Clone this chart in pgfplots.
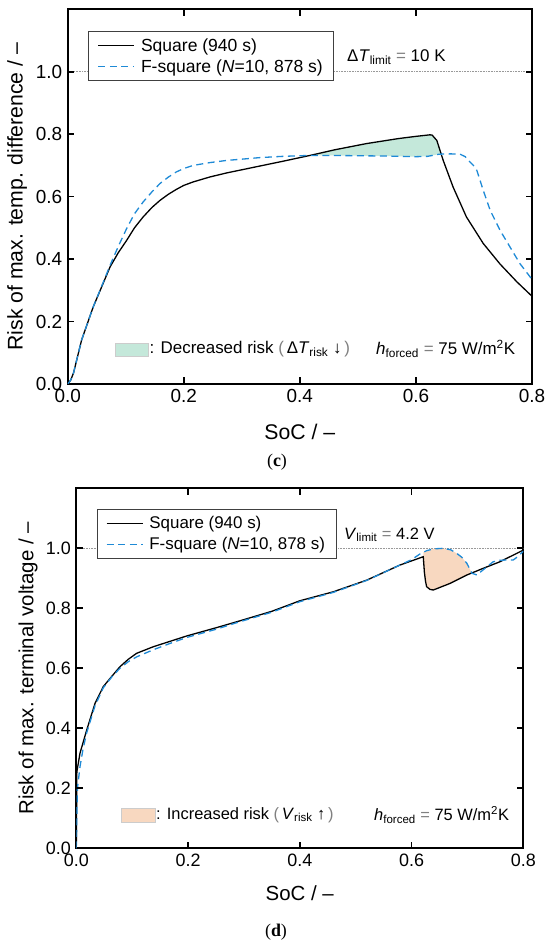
\documentclass[border=0pt]{standalone}
\usepackage{fontspec}
\setmainfont{Liberation Sans}
\newfontfamily\capfont{Liberation Serif}
\usepackage{pgfplots}
\usepackage{pgfplotstable}
\pgfplotsset{compat=1.18}
\definecolor{fsblue}{RGB}{30,138,214}
\definecolor{decgreen}{RGB}{196,232,218}
\definecolor{incorange}{RGB}{248,216,192}

\pgfplotstableread{
x y
0 0
0.005 0.012
0.01 0.035
0.024 0.141
0.044 0.247
0.073 0.375
0.087 0.42
0.1016 0.46
0.115 0.5
0.13 0.535
0.145 0.565
0.159 0.588
0.173 0.607
0.187 0.623
0.2 0.636
0.216 0.647
0.245 0.663
0.274 0.676
0.3 0.686
0.331 0.698
0.37 0.713
0.4 0.725
0.42 0.733
0.46 0.750
0.515 0.770
0.57 0.786
0.6 0.793
0.624 0.798
0.628 0.797
0.636 0.78
0.647 0.716
0.664 0.631
0.687 0.535
0.716 0.45
0.745 0.384
0.774 0.327
0.8 0.281
}\sqtop

\pgfplotstableread{
x y
0 0
0.005 0.012
0.01 0.035
0.024 0.141
0.044 0.247
0.06 0.32
0.073 0.38
0.087 0.44
0.1016 0.498
0.115 0.545
0.13 0.583
0.145 0.615
0.159 0.642
0.173 0.662
0.187 0.679
0.2 0.69
0.216 0.70
0.245 0.709
0.274 0.716
0.3 0.72
0.331 0.725
0.37 0.729
0.417 0.732
0.45 0.732
0.5 0.731
0.55 0.730
0.6 0.728
0.62 0.729
0.64 0.736
0.66 0.737
0.676 0.736
0.685 0.728
0.693 0.711
0.699 0.70
0.705 0.684
0.716 0.62
0.728 0.556
0.745 0.492
0.762 0.439
0.779 0.386
0.8 0.335
}\fstop

% region between the two curves where the risk decreases (c)
\pgfplotstableread{
x y
0.42 0.733
0.46 0.750
0.515 0.770
0.57 0.786
0.6 0.793
0.624 0.798
0.628 0.797
0.636 0.78
0.6436 0.736
0.64 0.736
0.62 0.729
0.6 0.728
0.55 0.730
0.5 0.731
0.45 0.732
0.42 0.732
}\filltop

\pgfplotstableread{
x y
0 0
0.001 0.255
0.0066 0.317
0.0186 0.394
0.0335 0.483
0.0483 0.539
0.063 0.572
0.078 0.605
0.093 0.63
0.108 0.65
0.138 0.672
0.168 0.69
0.198 0.708
0.25 0.735
0.287 0.755
0.35 0.79
0.4 0.825
0.46 0.855
0.52 0.894
0.579 0.944
0.621 0.972
0.623 0.92
0.625 0.89
0.627 0.872
0.633 0.863
0.639 0.861
0.669 0.883
0.699 0.911
0.728 0.933
0.758 0.955
0.8 0.994
}\sqbot

\pgfplotstableread{
x y
0 0
0.001 0.1
0.002 0.2
0.0066 0.272
0.012 0.33
0.0186 0.385
0.0335 0.475
0.0483 0.535
0.063 0.57
0.078 0.6
0.093 0.622
0.108 0.638
0.138 0.662
0.168 0.683
0.198 0.703
0.25 0.73
0.287 0.752
0.35 0.787
0.4 0.822
0.46 0.853
0.52 0.893
0.579 0.944
0.600 0.962
0.615 0.981
0.627 0.992
0.639 0.998
0.657 1.0
0.67 0.995
0.681 0.983
0.69 0.97
0.699 0.95
0.708 0.917
0.717 0.911
0.728 0.928
0.746 0.955
0.758 0.96
0.77 0.961
0.782 0.961
0.79 0.972
0.8 0.99
}\fsbot

% region between the two curves where the risk increases (d)
\pgfplotstableread{
x y
0.621 0.972
0.623 0.92
0.625 0.89
0.627 0.872
0.633 0.863
0.639 0.861
0.669 0.883
0.699 0.911
0.708 0.917
0.699 0.95
0.69 0.97
0.681 0.983
0.67 0.995
0.657 1.0
0.639 0.998
0.627 0.992
0.621 0.986
}\fillbot

\pgfplotsset{
  myax/.style={
    scale only axis,
    xmin=0, xmax=0.8, ymin=0, ymax=1.2,
    xtick={0,0.2,0.4,0.6,0.8},
    ytick={0,0.2,0.4,0.6,0.8,1.0},
    xmajorticks=true, ymajorticks=true,
    tick align=inside,
    tickwidth=6.5bp,
    major tick style={draw=black, line width=1.6bp},
    axis line style={line width=1.8bp},
    /pgf/number format/fixed,
    /pgf/number format/fixed zerofill,
    /pgf/number format/precision=1,
    /pgf/number format/assume math mode=true,
    xticklabel style={yshift=-2bp},
    yticklabel style={xshift=-2bp},
    legend style={anchor=north west, draw=black!75, line width=0.8bp,
      inner xsep=9bp, inner ysep=5bp,
      row sep=3bp, cells={anchor=west}},
    legend image code/.code={\draw[##1] (0bp,0bp) -- (36bp,0bp); \path (40bp,0bp);},
  },
  sqline/.style={black, line width=1.3bp},
  fsline/.style={fsblue, line width=1.3bp, dash pattern=on 7bp off 4.5bp},
}

\newcommand{\boxticks}{%
  \pgfplotsinvokeforeach{0.2,0.4,0.6}{%
    \draw[draw=black, line width=1.6bp] (axis cs:##1,0) -- ++(0pt,6.5bp);
    \draw[draw=black, line width=1.6bp] (axis cs:##1,1.2) -- ++(0pt,-6.5bp);}%
  \pgfplotsinvokeforeach{0.2,0.4,0.6,0.8,1.0}{%
    \draw[draw=black, line width=1.6bp] (axis cs:0,##1) -- ++(6.5bp,0pt);
    \draw[draw=black, line width=1.6bp] (axis cs:0.8,##1) -- ++(-6.5bp,0pt);}%
}

\begin{document}
\begin{tikzpicture}
\path (0,0) rectangle (550bp,945bp);

% ---------- (c)
\begin{axis}[myax,
  at={(67.7bp,561bp)}, anchor=south west,
  width=464.3bp, height=374.7bp,
  tick label style={font=\fontsize{19}{22}\selectfont},
  legend style={at={(axis description cs:0.0444,0.942)}, font=\fontsize{17.6}{21}\selectfont},
  xlabel={SoC / –},
  ylabel={Risk of max. temp. difference / –},
  every axis x label/.style={at={(axis description cs:0.5,-0.127)}, anchor=center, font=\fontsize{21.3}{25}\selectfont},
  every axis y label/.style={at={(axis description cs:-0.109,0.5)}, anchor=center, rotate=90, font=\fontsize{21.3}{25}\selectfont},
]
\addplot[fill=decgreen, draw=none, forget plot] table {\filltop} -- cycle;
\addplot[gray!80, line width=0.6bp, densely dotted, forget plot] coordinates {(0,1) (0.8,1)};
\addplot[sqline] table {\sqtop};
\addlegendentry{Square (940 s)}
\addplot[fsline] table {\fstop};
\addlegendentry{F-square (\textit{N}=10, 878 s)}
\boxticks
\end{axis}

% ---------- (d)
\begin{axis}[myax,
  at={(76.3bp,96.7bp)}, anchor=south west,
  width=447bp, height=360bp,
  tick label style={font=\fontsize{18}{21}\selectfont},
  legend style={at={(axis description cs:0.0456,0.942)}, font=\fontsize{17}{20}\selectfont},
  xlabel={SoC / –},
  ylabel={Risk of max. terminal voltage / –},
  every axis x label/.style={at={(axis description cs:0.5,-0.125)}, anchor=center, font=\fontsize{20.5}{24}\selectfont},
  every axis y label/.style={at={(axis description cs:-0.108,0.5)}, anchor=center, rotate=90, font=\fontsize{20.5}{24}\selectfont},
]
\addplot[fill=incorange, draw=none, forget plot] table {\fillbot} -- cycle;
\addplot[gray!80, line width=0.6bp, densely dotted, forget plot] coordinates {(0,1) (0.8,1)};
\addplot[sqline] table {\sqbot};
\addlegendentry{Square (940 s)}
\addplot[fsline] table {\fsbot};
\addlegendentry{F-square (\textit{N}=10, 878 s)}
\boxticks
\end{axis}

% ---------- annotations
\begin{scope}[every node/.style={inner sep=0, font=\fontsize{17}{20}\selectfont}]
\node[anchor=west] at (347bp,888bp) {Δ\textit{T}\textsubscript{limit} {\color{gray}=} 10 K};
\node[anchor=west] at (376bp,596bp) {\textit{h}\textsubscript{forced} {\color{gray}=} 75 W/m\textsuperscript{2}K};
\fill[decgreen, draw=black!20, line width=0.5bp] (115.5bp,588.3bp) rectangle (148.5bp,601.7bp);
\node[anchor=west] at (149.5bp,596bp) {: Decreased risk {\color{gray}(}\,Δ\textit{T}\textsubscript{risk} ↓\,{\color{gray})}};
\end{scope}
\begin{scope}[every node/.style={inner sep=0, font=\fontsize{16.5}{20}\selectfont}]
\node[anchor=west] at (344bp,410bp) {\textit{V}\textsubscript{limit} {\color{gray}=} 4.2 V};
\node[anchor=west] at (374bp,130bp) {\textit{h}\textsubscript{forced} {\color{gray}=} 75 W/m\textsuperscript{2}K};
\fill[incorange, draw=black!20, line width=0.5bp] (121.6bp,122.3bp) rectangle (155bp,137bp);
\node[anchor=west] at (156bp,130bp) {: Increased risk {\color{gray}(}\,\textit{V}\textsubscript{risk} ↑\,{\color{gray})}};

\node[font=\capfont\fontsize{18}{21}\selectfont] at (277bp,483bp) {(\textbf{c})};
\node[font=\capfont\fontsize{18}{21}\selectfont] at (276bp,13.3bp) {(\textbf{d})};
\end{scope}
\end{tikzpicture}
\end{document}
